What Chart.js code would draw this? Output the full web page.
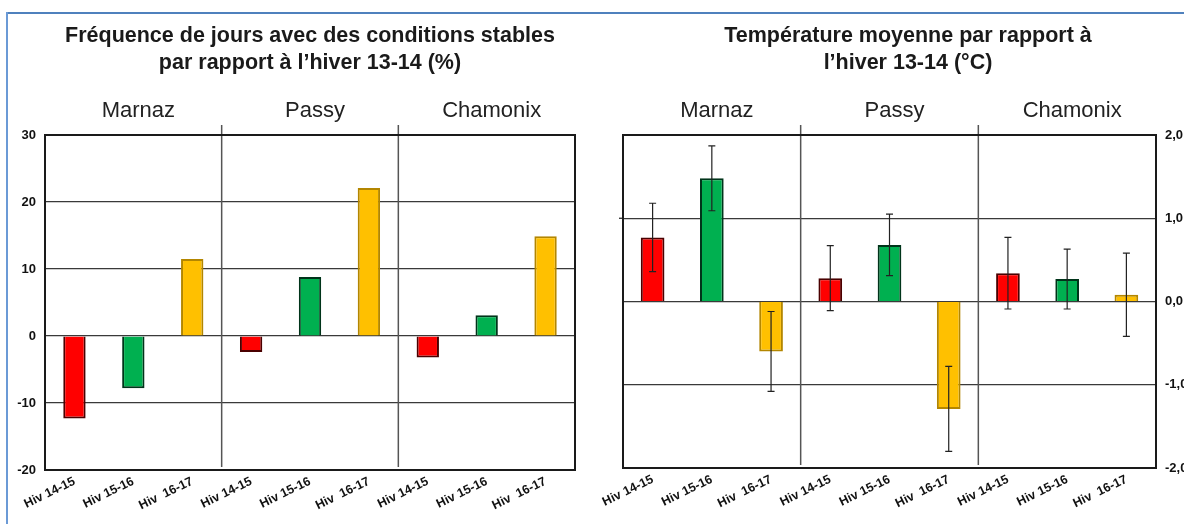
<!DOCTYPE html>
<html>
<head>
<meta charset="utf-8">
<script src="https://cdn.jsdelivr.net/npm/chart.js@4.4.1/dist/chart.umd.min.js"></script>
<style>
  html, body { margin: 0; padding: 0; background: #fff; }
  #frame { position: absolute; left: 0; top: 0; width: 1184px; height: 524px; overflow: hidden; }
  #frame canvas { position: absolute; top: 0; }
  .edge-top { position: absolute; left: 6px; top: 12px; width: 1178px; height: 2px; background: #4F81BD; }
  .edge-left { position: absolute; left: 6px; top: 12px; width: 2px; height: 512px; background: #6B9AD6; }
</style>
</head>
<body>
<div id="frame">
  <canvas id="freqChart" width="590" height="524" style="left:0"></canvas>
  <canvas id="tempChart" width="594" height="524" style="left:590px"></canvas>
  <div class="edge-top"></div>
  <div class="edge-left"></div>
</div>
<script>
// winters compared with 13-14, per site
const sites = ['Marnaz', 'Passy', 'Chamonix'];
const seasons = ['Hiv 14-15', 'Hiv 15-16', 'Hiv  16-17'];
const labels = sites.flatMap(() => seasons);

// stable-condition days, change in %
const freqValues = [-12.3, -7.8, 11.5, -2.4, 8.8, 22.1, -3.2, 3.1, 14.9];
const freqTicks = [-20, -10, 0, 10, 20, 30];

// mean temperature, change in °C, with spread
const tempValues = [0.77, 1.48, -0.60, 0.28, 0.68, -1.29, 0.34, 0.27, 0.08];
const tempErrors = [0.41, 0.39, 0.48, 0.39, 0.37, 0.51, 0.43, 0.36, 0.50];
const tempTicks = [-2, -1, 0, 1, 2];

const seasonColors = ['#FF0000', '#00B050', '#FFC000'];
const seasonBorders = ['#4a0000', '#00341a', '#B38600'];

const FONT = '"Liberation Sans", Arial, sans-serif';
const NARROW = '"Liberation Sans Narrow", "Liberation Sans", Arial, sans-serif';

// titles, site names, group separators, plot box and error bars
const frameDecor = {
  id: 'frameDecor',
  beforeDatasetsDraw(chart, args, opts) {
    const { ctx, chartArea: a, scales: { x } } = chart;
    ctx.save();
    ctx.strokeStyle = '#555';
    ctx.lineWidth = 1.5;
    for (let g = 1; g < sites.length; g++) {
      const px = (x.getPixelForValue(g * 3 - 1) + x.getPixelForValue(g * 3)) / 2;
      ctx.beginPath();
      ctx.moveTo(px, a.top - 10);
      ctx.lineTo(px, a.bottom - 3);
      ctx.stroke();
    }
    ctx.restore();
  },
  afterDatasetsDraw(chart, args, opts) {
    if (!opts.errors) return;
    const { ctx, scales: { y } } = chart;
    const meta = chart.getDatasetMeta(0);
    ctx.save();
    ctx.strokeStyle = '#222';
    ctx.lineWidth = 1.2;
    meta.data.forEach((bar, i) => {
      const v = chart.data.datasets[0].data[i];
      const hi = y.getPixelForValue(v + opts.errors[i]);
      const lo = y.getPixelForValue(v - opts.errors[i]);
      ctx.beginPath();
      ctx.moveTo(bar.x, hi); ctx.lineTo(bar.x, lo);
      ctx.moveTo(bar.x - 3.5, hi); ctx.lineTo(bar.x + 3.5, hi);
      ctx.moveTo(bar.x - 3.5, lo); ctx.lineTo(bar.x + 3.5, lo);
      ctx.stroke();
    });
    ctx.restore();
  },
  afterDraw(chart, args, opts) {
    const { ctx, chartArea: a, scales: { x, y } } = chart;
    ctx.save();
    ctx.strokeStyle = '#1a1a1a';
    ctx.lineWidth = 2;
    ctx.strokeRect(a.left, a.top, a.right - a.left, a.bottom - a.top);

    // short mark on the left edge of the temperature panel
    if (opts.leftMark !== undefined) {
      const py = y.getPixelForValue(opts.leftMark);
      ctx.lineWidth = 1.2;
      ctx.beginPath();
      ctx.moveTo(a.left - 4, py); ctx.lineTo(a.left, py);
      ctx.stroke();
    }

    ctx.fillStyle = '#1a1a1a';
    ctx.textAlign = 'center';
    ctx.textBaseline = 'middle';
    ctx.font = 'bold 21.5px ' + FONT;
    opts.title.forEach((line, i) => ctx.fillText(line, opts.titleX, 36 + i * 27));

    ctx.fillStyle = '#222';
    ctx.font = '22px ' + FONT;
    sites.forEach((s, g) => ctx.fillText(s, x.getPixelForValue(g * 3 + 1) + 5, a.top - 24));
    ctx.restore();
  }
};

function barDataset(values, pct) {
  return {
    data: values,
    backgroundColor: labels.map((_, i) => seasonColors[i % 3]),
    borderColor: labels.map((_, i) => seasonBorders[i % 3]),
    borderWidth: 2,
    categoryPercentage: 1,
    barPercentage: pct
  };
}

const xAxis = {
  grid: { display: false, drawTicks: false },
  border: { display: false },
  afterFit: s => { s.height = 54; },
  ticks: {
    autoSkip: false, minRotation: 26, maxRotation: 26, padding: 4,
    color: '#111', font: { family: NARROW, size: 12.5, weight: 'bold' }
  }
};

new Chart(document.getElementById('freqChart'), {
  type: 'bar',
  data: { labels: labels, datasets: [barDataset(freqValues, 0.38)] },
  options: {
    responsive: false,
    animation: false,
    layout: { padding: { top: 135, right: 15, left: 0, bottom: 0 } },
    plugins: {
      legend: { display: false },
      tooltip: { enabled: false },
      frameDecor: {
        title: ['Fréquence de jours avec des conditions stables', 'par rapport à l’hiver 13-14 (%)'],
        titleX: 310
      }
    },
    scales: {
      x: xAxis,
      y: {
        min: freqTicks[0], max: freqTicks[freqTicks.length - 1],
        afterBuildTicks: s => { s.ticks = freqTicks.map(v => ({ value: v })); },
        afterFit: s => { s.width = 45; },
        grid: { color: '#3a3a3a', lineWidth: 1.2, drawTicks: false },
        border: { display: false },
        ticks: { padding: 9, color: '#111', font: { family: NARROW, size: 13, weight: 'bold' } }
      }
    }
  },
  plugins: [frameDecor]
});

new Chart(document.getElementById('tempChart'), {
  type: 'bar',
  data: { labels: labels, datasets: [barDataset(tempValues, 0.4)] },
  options: {
    responsive: false,
    animation: false,
    layout: { padding: { top: 135, right: 0, left: 33, bottom: 2 } },
    plugins: {
      legend: { display: false },
      tooltip: { enabled: false },
      frameDecor: {
        title: ['Température moyenne par rapport à', 'l’hiver 13-14 (°C)'],
        titleX: 318,
        errors: tempErrors,
        leftMark: 1
      }
    },
    scales: {
      x: xAxis,
      y: {
        position: 'right',
        min: tempTicks[0], max: tempTicks[tempTicks.length - 1],
        afterBuildTicks: s => { s.ticks = tempTicks.map(v => ({ value: v })); },
        afterFit: s => { s.width = 28; },
        grid: { color: '#3a3a3a', lineWidth: 1.2, drawTicks: false },
        border: { display: false },
        ticks: {
          padding: 9, color: '#111', font: { family: NARROW, size: 13, weight: 'bold' },
          callback: v => v.toFixed(1).replace('.', ',')
        }
      }
    }
  },
  plugins: [frameDecor]
});
</script>
</body>
</html>
